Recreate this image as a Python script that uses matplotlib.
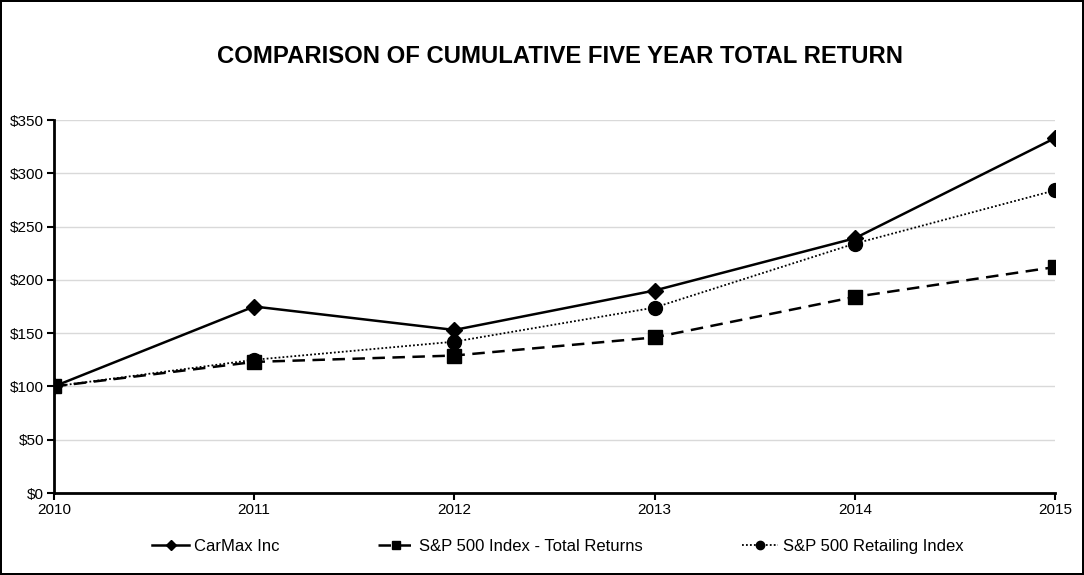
import matplotlib
matplotlib.use('Agg')
import matplotlib.pyplot as plt
from matplotlib.ticker import FuncFormatter

plt.rcParams['font.family'] = ['Liberation Sans', 'DejaVu Sans']

# Data
years = [2010, 2011, 2012, 2013, 2014, 2015]
carmax = [100, 175, 153, 190, 239, 333]
sp500 = [100, 123, 129, 146, 184, 212]
retailing = [100, 125, 142, 174, 234, 284]

fig = plt.figure(figsize=(10.84, 5.75), dpi=100, edgecolor='black', linewidth=1.5)
ax = fig.add_axes([0.0498, 0.1426, 0.9234, 0.6487])

ax.plot(years, carmax, color='black', linewidth=1.8, linestyle='-',
        marker='D', markersize=8, label='CarMax Inc', zorder=4)
ax.plot(years, sp500, color='black', linewidth=1.8, linestyle=(0, (5, 3)),
        marker='s', markersize=9.5, label='S&P 500 Index - Total Returns', zorder=3)
ax.plot(years, retailing, color='black', linewidth=1.3, linestyle=(0, (1, 1.2)),
        marker='o', markersize=10, label='S&P 500 Retailing Index', zorder=3)

ax.set_xlim(2010, 2015)
ax.set_ylim(0, 350)
ax.set_xticks(years)
ax.set_yticks(range(0, 351, 50))
ax.yaxis.set_major_formatter(FuncFormatter(lambda v, p: f'${int(v)}'))
ax.tick_params(axis='both', direction='out', length=5, width=1.5, labelsize=11, pad=2)
ax.grid(axis='y', color='#d9d9d9', linewidth=1)
ax.set_axisbelow(True)
for s in ['top', 'right']:
    ax.spines[s].set_visible(False)
for s in ['left', 'bottom']:
    ax.spines[s].set_linewidth(2)
ax.margins(0)

fig.text(0.5166, 0.901, 'COMPARISON OF CUMULATIVE FIVE YEAR TOTAL RETURN',
         ha='center', va='center', fontsize=17.2, fontweight='bold')

fig.legend(loc='center', bbox_to_anchor=(0.5148, 0.05), ncol=3, frameon=False,
           fontsize=12, handlelength=2.2, columnspacing=5.9, handletextpad=0.3,
           markerscale=0.6)

fig.savefig('out.png', dpi=100)
